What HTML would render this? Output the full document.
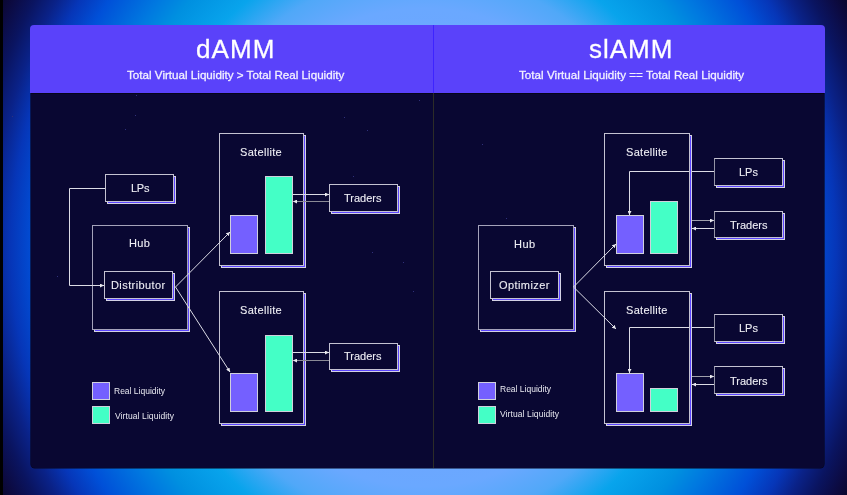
<!DOCTYPE html>
<html><head><meta charset="utf-8">
<style>
html,body{margin:0;padding:0;}
body{width:847px;height:495px;overflow:hidden;position:relative;font-family:"Liberation Sans",sans-serif;
background:radial-gradient(480px 520px at 423.5px 247.5px, #7aa0ff 0%, #6aa8ff 46%, #50a8f8 53%, #08a4ec 60%, #0090e0 68%, #0078e0 73%, #0050d8 81%, #0636b8 86%, #0a2288 90%, #0a1460 94%, #0c0a40 98%, #0a0830 100%);}
.blk{position:absolute;left:0;top:0;width:3px;height:495px;background:#000;}
.card{position:absolute;left:30px;top:25px;width:795px;height:443px;}
.body{position:absolute;left:1px;top:67px;width:793px;height:376px;background:#090732;border-radius:0 0 4px 4px;box-shadow:0 0 0 0.6px #06061c;}
.hdr{position:absolute;left:0;top:0;width:795px;height:68px;background:#5a42fa;border-radius:4px 4px 0 0;}
.hline{position:absolute;left:1px;top:68px;width:793px;height:1px;background:#050518;}
.div1{position:absolute;left:403px;top:0;width:1px;height:68px;background:#3e24ff;}
.div2{position:absolute;left:403px;top:68px;width:1px;height:375px;background:#2c2c28;}

.title{position:absolute;color:#fff;white-space:nowrap;font-size:26px;line-height:26px;will-change:transform;-webkit-text-stroke:0.3px #ffffff;}
.sub{position:absolute;white-space:nowrap;font-size:11.65px;line-height:12px;color:#f2f0ff;-webkit-text-stroke:0.3px #f2f0ff;will-change:transform;}
.bx{position:absolute;box-sizing:border-box;border:1px solid #c4c2d2;background:#090732;
box-shadow:2px 2px 0 -1px #5b45ff,2px 2px 0 0 #d4d2e4;}
.lbl{position:absolute;color:#eeeef4;white-space:nowrap;font-size:11px;line-height:11px;-webkit-text-stroke:0.1px #eeeef4;will-change:transform;}
.bar{position:absolute;box-sizing:border-box;border:1px solid #d0d0dc;}
.p{background:#7460ff;}
.g{background:#44ffc6;}
.leg{position:absolute;color:#e8e8f0;white-space:nowrap;font-size:8.5px;line-height:9px;will-change:transform;}
svg{position:absolute;left:0;top:0;}
.star{position:absolute;width:1px;height:1px;background:#30307a;}
.hb{border-color:#a4a2ba;}
.dl{border-left-color:#9494a6;}
</style></head><body>
<div class="blk"></div>
<div class="card">
  <div class="body"></div>
  <div class="hdr"></div>
  <div class="hline"></div>
  <div class="div1"></div>
  <div class="div2"></div>
</div>
<!-- titles -->
<div class="star" style="left:482px;top:144px;"></div><div class="star" style="left:506px;top:218px;"></div>
<div class="star" style="left:125px;top:129px;"></div><div class="star" style="left:135px;top:115px;"></div><div class="star" style="left:136px;top:95px;"></div><div class="star" style="left:367px;top:130px;"></div><div class="star" style="left:353px;top:176px;"></div><div class="star" style="left:372px;top:252px;"></div><div class="star" style="left:403px;top:262px;"></div><div class="star" style="left:413px;top:291px;"></div><div class="star" style="left:344px;top:117px;"></div><div class="star" style="left:419px;top:100px;"></div><div class="star" style="left:12px;top:116px;"></div><div class="star" style="left:57px;top:276px;"></div>

<!-- LEFT PANEL -->
<div class="bx" style="left:105px;top:174px;width:69px;height:28px;"></div>
<div class="bx hb" style="left:92px;top:225px;width:96px;height:105px;"></div>
<div class="bx" style="left:104px;top:271px;width:69px;height:28px;"></div>

<div class="bx" style="left:219px;top:133px;width:85px;height:133px;"></div>
<div class="bar p" style="left:230px;top:215px;width:28px;height:39px;"></div>
<div class="bar g" style="left:265px;top:176px;width:28px;height:78px;"></div>
<div class="bx" style="left:329px;top:184px;width:69px;height:28px;"></div>

<div class="bx" style="left:219px;top:291px;width:85px;height:133px;"></div>
<div class="bar p" style="left:230px;top:373px;width:28px;height:39px;"></div>
<div class="bar g" style="left:265px;top:335px;width:28px;height:77px;"></div>
<div class="bx" style="left:329px;top:343px;width:69px;height:27px;"></div>

<div class="bar p" style="left:92px;top:382px;width:18px;height:18px;"></div>
<div class="bar g" style="left:92px;top:406px;width:18px;height:18px;"></div>

<!-- RIGHT PANEL -->
<div class="bx hb" style="left:478px;top:225px;width:96px;height:105px;"></div>
<div class="bx" style="left:490px;top:271px;width:69px;height:28px;"></div>

<div class="bx" style="left:604px;top:133px;width:86px;height:133px;"></div>
<div class="bar p" style="left:616px;top:215px;width:28px;height:39px;"></div>
<div class="bar g" style="left:650px;top:201px;width:28px;height:53px;"></div>
<div class="bx dl" style="left:714px;top:158px;width:69px;height:28px;"></div>
<div class="bx dl" style="left:714px;top:211px;width:69px;height:27px;"></div>

<div class="bx" style="left:604px;top:291px;width:86px;height:133px;"></div>
<div class="bar p" style="left:616px;top:373px;width:28px;height:39px;"></div>
<div class="bar g" style="left:650px;top:388px;width:28px;height:24px;"></div>
<div class="bx dl" style="left:714px;top:314px;width:69px;height:28px;"></div>
<div class="bx dl" style="left:714px;top:366px;width:69px;height:28px;"></div>

<div class="bar p" style="left:478px;top:382px;width:18px;height:18px;"></div>
<div class="bar g" style="left:478px;top:406px;width:18px;height:18px;"></div>

<div class="title" id="t1" style="left:195.60px;top:35.70px;letter-spacing:1.067px;">dAMM</div>
<div class="title" id="t2" style="left:589.30px;top:35.80px;letter-spacing:0.980px;">slAMM</div>
<div class="sub" id="s1" style="left:126.50px;top:69.30px;letter-spacing:0.000px;">Total Virtual Liquidity &gt; Total Real Liquidity</div>
<div class="sub" id="s2" style="left:518.80px;top:69.30px;letter-spacing:0.021px;">Total Virtual Liquidity == Total Real Liquidity</div>
<div class="lbl" id="l1" style="left:131.40px;top:183.30px;letter-spacing:-0.250px;">LPs</div>
<div class="lbl" id="l2" style="left:129.10px;top:237.70px;letter-spacing:0.400px;">Hub</div>
<div class="lbl" id="l3" style="left:111.40px;top:279.90px;letter-spacing:0.416px;">Distributor</div>
<div class="lbl" id="l4" style="left:240.40px;top:146.50px;letter-spacing:0.320px;">Satellite</div>
<div class="lbl" id="l5" style="left:344.20px;top:193.30px;letter-spacing:0.000px;">Traders</div>
<div class="lbl" id="l6" style="left:240.40px;top:304.50px;letter-spacing:0.320px;">Satellite</div>
<div class="lbl" id="l7" style="left:344.20px;top:351.30px;letter-spacing:0.000px;">Traders</div>
<div class="lbl" id="r1" style="left:514.10px;top:239.40px;letter-spacing:0.520px;">Hub</div>
<div class="lbl" id="r2" style="left:498.90px;top:280.00px;letter-spacing:0.410px;">Optimizer</div>
<div class="lbl" id="r3" style="left:625.60px;top:147.20px;letter-spacing:0.290px;">Satellite</div>
<div class="lbl" id="r4" style="left:739.30px;top:166.90px;letter-spacing:0.000px;">LPs</div>
<div class="lbl" id="r5" style="left:730.30px;top:219.80px;letter-spacing:0.000px;">Traders</div>
<div class="lbl" id="r6" style="left:625.60px;top:305.30px;letter-spacing:0.290px;">Satellite</div>
<div class="lbl" id="r7" style="left:739.30px;top:323.10px;letter-spacing:0.000px;">LPs</div>
<div class="lbl" id="r8" style="left:730.30px;top:375.80px;letter-spacing:0.000px;">Traders</div>
<div class="leg" id="g1" style="left:114.00px;top:387.40px;letter-spacing:0.000px;">Real Liquidity</div>
<div class="leg" id="g2" style="left:115.00px;top:411.80px;letter-spacing:0.095px;">Virtual Liquidity</div>
<div class="leg" id="g3" style="left:500.40px;top:385.40px;letter-spacing:0.000px;">Real Liquidity</div>
<div class="leg" id="g4" style="left:500.30px;top:409.80px;letter-spacing:0.095px;">Virtual Liquidity</div>
<svg width="847" height="495" viewBox="0 0 847 495">
<defs>
<marker id="ah" viewBox="0 0 4 4" refX="4" refY="2" markerWidth="4" markerHeight="4" orient="auto" markerUnits="userSpaceOnUse">
<path d="M0,0 L4,2 L0,4 z" fill="#e8e8ee"/>
</marker>
</defs>
<g stroke="#dcdce6" stroke-width="1" fill="none">
<!-- left -->
<path d="M105,188.5 H69.5 V285.5 H104" marker-end="url(#ah)"/>
<path d="M175.5,287 L230,232" marker-end="url(#ah)"/>
<path d="M175.5,287 L230,372" marker-end="url(#ah)"/>
<path d="M293,194.5 H329" marker-end="url(#ah)"/>
<path d="M329,201.5 H293" stroke="#8a8a96" marker-end="url(#ah)"/>
<path d="M293,352.5 H329" marker-end="url(#ah)"/>
<path d="M329,360.5 H293" stroke="#8a8a96" marker-end="url(#ah)"/>
<!-- right -->
<path d="M573.5,287 L616,244" marker-end="url(#ah)"/>
<path d="M573.5,287 L616,329" marker-end="url(#ah)"/>
<path d="M714,171.5 H692"/><path d="M689,171.5 H629.5 V215" marker-end="url(#ah)"/>
<path d="M714,327.5 H692"/><path d="M689,327.5 H629.5 V373" marker-end="url(#ah)"/>
<path d="M692,220.5 H714" stroke="#a0a0ac" marker-end="url(#ah)"/>
<path d="M714,228.5 H692" marker-end="url(#ah)"/>
<path d="M692,376.5 H714" stroke="#a0a0ac" marker-end="url(#ah)"/>
<path d="M714,384.5 H692" marker-end="url(#ah)"/>
</g>
</svg>
</body></html>
